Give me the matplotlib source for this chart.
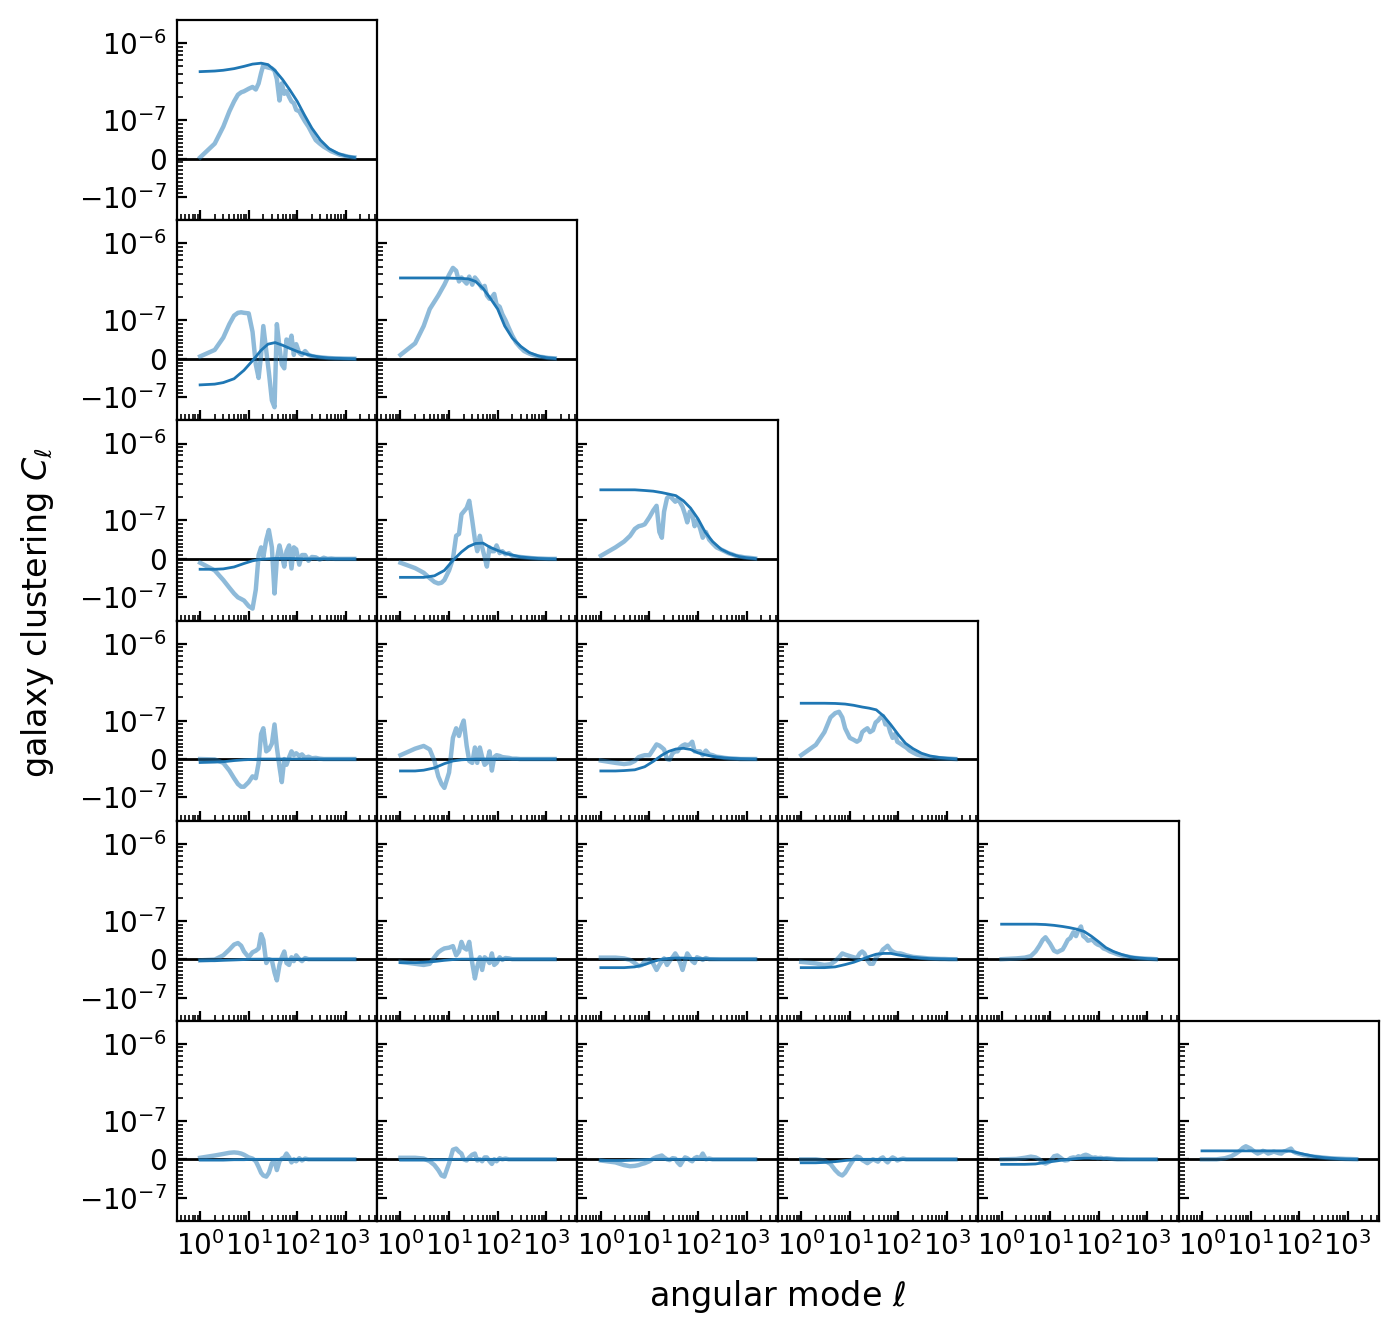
import matplotlib
matplotlib.use('Agg')
import matplotlib.pyplot as plt
from matplotlib.ticker import FixedLocator, LogLocator
import numpy as np

# values are in units of 1e-7
unit = 1e-7

ell_theory = [1, 2, 3, 5, 8, 12, 18, 25, 35, 50, 70, 100, 140, 200, 300, 450, 700, 1000, 1500]
ell_data = [1, 2, 3, 4, 5, 6, 7, 8, 10, 12, 14, 16, 18, 20, 23, 26, 30, 34, 38, 43, 48, 54, 60,
            68, 76, 85, 95, 110, 125, 145, 170, 200, 240, 290, 350, 420, 500, 600, 750, 900,
            1100, 1300, 1500]

# theory spectra (dark lines)
th_0_0 = [4.27, 4.35, 4.45, 4.67, 5.0, 5.35, 5.5, 5.27, 4.4, 3.36, 2.48, 1.75, 1.17, 0.79, 0.48, 0.26, 0.13, 0.07, 0.03]
th_1_0 = [-0.68, -0.66, -0.62, -0.52, -0.30, -0.05, 0.22, 0.38, 0.42, 0.35, 0.27, 0.19, 0.13, 0.08, 0.04, 0.02, 0.01, 0.005, 0.0]
th_1_1 = [3.55, 3.55, 3.55, 3.55, 3.55, 3.52, 3.5, 3.45, 3.2, 2.6, 1.95, 1.4, 0.85, 0.54, 0.32, 0.16, 0.07, 0.03, 0.01]
th_2_0 = [-0.27, -0.27, -0.26, -0.21, -0.12, -0.05, -0.01, 0.0, 0.01, 0.01, 0.01, 0.005, 0.0, 0.0, 0.0, 0.0, 0.0, 0.0, 0.0]
th_2_1 = [-0.48, -0.48, -0.48, -0.44, -0.3, -0.04, 0.18, 0.32, 0.4, 0.41, 0.3, 0.22, 0.15, 0.1, 0.05, 0.03, 0.01, 0.005, 0.0]
th_2_2 = [2.5, 2.5, 2.5, 2.5, 2.45, 2.4, 2.3, 2.2, 2.1, 1.8, 1.45, 1.05, 0.7, 0.45, 0.25, 0.14, 0.06, 0.03, 0.01]
th_3_0 = [-0.09, -0.08, -0.07, -0.04, -0.02, -0.01] + [0.0] * 13
th_3_1 = [-0.31, -0.31, -0.29, -0.23, -0.12, -0.05, -0.02, -0.01] + [0.0] * 11
th_3_2 = [-0.31, -0.31, -0.3, -0.28, -0.2, -0.06, 0.1, 0.2, 0.26, 0.28, 0.25, 0.16, 0.11, 0.07, 0.04, 0.02, 0.01, 0.005, 0.0]
th_3_3 = [1.68, 1.68, 1.68, 1.67, 1.64, 1.58, 1.5, 1.45, 1.38, 1.14, 0.89, 0.63, 0.41, 0.27, 0.15, 0.08, 0.04, 0.02, 0.005]
th_4_0 = [-0.04, -0.04, -0.03, -0.02, -0.01] + [0.0] * 14
th_4_1 = [-0.09, -0.09, -0.08, -0.06, -0.03, -0.01] + [0.0] * 13
th_4_2 = [-0.22, -0.22, -0.22, -0.2, -0.14, -0.06, 0.0, 0.02, 0.03, 0.03, 0.02, 0.015, 0.01, 0.005] + [0.0] * 5
th_4_3 = [-0.22, -0.22, -0.22, -0.2, -0.14, -0.08, 0.0, 0.07, 0.13, 0.15, 0.15, 0.11, 0.08, 0.05, 0.03, 0.015, 0.01, 0.005, 0.0]
th_4_4 = [0.91, 0.91, 0.91, 0.91, 0.9, 0.88, 0.85, 0.82, 0.78, 0.72, 0.6, 0.45, 0.3, 0.2, 0.12, 0.06, 0.03, 0.015, 0.005]
th_5_0 = [-0.02, -0.02, -0.02, -0.01, -0.01] + [0.0] * 14
th_5_1 = [-0.02, -0.02, -0.02, -0.01, -0.01] + [0.0] * 14
th_5_2 = [-0.03, -0.03, -0.03, -0.02, -0.01] + [0.0] * 14
th_5_3 = [-0.09, -0.09, -0.08, -0.06, -0.03, -0.01] + [0.0] * 13
th_5_4 = [-0.13, -0.13, -0.13, -0.12, -0.08, -0.05, -0.02, 0.0, 0.02, 0.03, 0.03, 0.025, 0.02, 0.01, 0.005] + [0.0] * 4
th_5_5 = [0.22, 0.22, 0.22, 0.22, 0.22, 0.22, 0.22, 0.22, 0.22, 0.22, 0.21, 0.16, 0.12, 0.08, 0.05, 0.03, 0.015, 0.008, 0.003]

# measured spectra (light lines)
cl_0_0 = [0.03, 0.39, 0.83, 1.3, 1.75, 2.14, 2.3, 2.37, 2.56, 2.7, 2.5, 3.0, 4.1, 5.2, 4.9, 4.8, 4.7, 4.4, 3.4, 1.8,
          3.0, 2.2, 2.37, 2.0, 1.75, 1.66, 1.36, 1.3, 1.12, 0.96, 0.83, 0.66, 0.48, 0.39, 0.31, 0.25, 0.19, 0.15,
          0.1, 0.08, 0.05, 0.035, 0.03]
cl_1_0 = [0.06, 0.23, 0.55, 0.9, 1.15, 1.25, 1.27, 1.25, 1.23, 0.7, -0.15, -0.5, 0.1, 0.85, 0.2, -0.35, -1.1, -1.35,
          0.9, 0.3, -0.15, -0.25, 0.5, 0.35, 0.6, 0.1, 0.38, 0.15, 0.1, 0.2, 0.1, 0.07, 0.05, 0.04, 0.03, 0.02,
          0.015, 0.01, 0.01, 0.005, 0.003, 0.002, 0.0]
cl_1_1 = [0.1, 0.4, 0.85, 1.4, 1.75, 2.1, 2.5, 2.9, 3.9, 4.8, 4.4, 3.2, 3.6, 3.3, 3.0, 3.7, 2.9, 3.6, 3.3, 2.9,
          2.6, 2.8, 2.1, 1.9, 2.0, 2.2, 1.6, 1.5, 1.2, 1.0, 0.8, 0.6, 0.42, 0.3, 0.2, 0.15, 0.11, 0.08, 0.05,
          0.04, 0.02, 0.015, 0.01]
cl_2_0 = [-0.1, -0.3, -0.55, -0.75, -0.9, -1.0, -1.05, -1.1, -1.3, -1.4, -0.8, 0.1, 0.3, 0.05, 0.5, 0.75, 0.3,
          -0.9, 0.0, 0.35, 0.1, -0.2, 0.2, 0.35, -0.25, 0.3, 0.25, -0.15, 0.1, 0.1, -0.05, 0.05, 0.04, -0.02,
          0.03, 0.0, 0.01] + [0.0] * 6
cl_2_1 = [-0.1, -0.24, -0.36, -0.5, -0.6, -0.64, -0.62, -0.55, -0.3, 0.0, 0.6, 0.65, 1.2, 1.3, 1.45, 1.8, 1.0,
          0.5, 0.2, 0.6, 0.3, 0.05, -0.2, 0.3, 0.2, 0.2, 0.35, 0.15, 0.2, 0.12, 0.15, 0.08, 0.06, 0.05, 0.04,
          0.03, 0.02, 0.015, 0.01, 0.005, 0.0, 0.0, 0.0]
cl_2_2 = [0.08, 0.3, 0.45, 0.6, 0.78, 0.85, 0.87, 0.9, 1.1, 1.35, 1.55, 0.7, 0.55, 1.3, 1.95, 2.1, 1.9, 1.75, 1.9,
          1.7, 1.5, 1.2, 0.95, 1.3, 1.2, 0.85, 1.0, 0.8, 0.55, 0.7, 0.5, 0.4, 0.3, 0.25, 0.2, 0.15, 0.12, 0.08,
          0.06, 0.04, 0.03, 0.02, 0.01]
cl_3_0 = [0.0, -0.01, -0.1, -0.3, -0.5, -0.65, -0.72, -0.72, -0.6, -0.45, -0.5, -0.1, 0.65, 0.8, 0.2, 0.25, 0.4,
          0.9, 0.3, -0.2, -0.6, 0.0, -0.15, 0.05, 0.2, 0.1, 0.15, 0.08, 0.12, 0.03, 0.06, 0.02, 0.03,
          0.01] + [0.0] * 9
cl_3_1 = [0.1, 0.27, 0.34, 0.25, -0.05, -0.45, -0.65, -0.75, -0.35, 0.55, 0.8, 0.6, 0.85, 1.0, 0.35, -0.05, -0.1,
          0.3, -0.1, 0.3, 0.05, -0.15, -0.1, 0.2, -0.3, 0.05, 0.1, 0.08, 0.05, 0.04, 0.03, 0.01,
          0.01] + [0.0] * 10
cl_3_2 = [-0.04, -0.1, -0.13, -0.11, -0.05, 0.05, 0.08, 0.1, 0.1, 0.25, 0.38, 0.35, 0.3, 0.25, 0.0, -0.02, 0.15,
          0.2, 0.2, 0.3, 0.35, 0.38, 0.36, 0.38, 0.45, 0.2, 0.2, 0.2, 0.1, 0.22, 0.12, 0.1, 0.06, 0.05, 0.03,
          0.02, 0.015, 0.01] + [0.0] * 5
cl_3_3 = [0.1, 0.37, 0.7, 1.1, 1.25, 1.3, 1.1, 0.8, 0.55, 0.5, 0.45, 0.5, 0.7, 0.75, 0.8, 0.7, 0.75, 0.95, 1.0,
          1.1, 1.15, 0.9, 0.95, 0.7, 0.55, 0.65, 0.45, 0.4, 0.35, 0.3, 0.22, 0.17, 0.12, 0.09, 0.07, 0.05,
          0.04, 0.03, 0.02, 0.015, 0.01, 0.005, 0.0]
cl_4_0 = [-0.03, -0.01, 0.1, 0.25, 0.38, 0.42, 0.35, 0.2, 0.05, 0.18, 0.22, 0.28, 0.65, 0.5, -0.1, 0.0, -0.03,
          -0.35, -0.55, -0.15, 0.05, 0.2, -0.1, -0.15, 0.05, -0.05, 0.1, 0.0, -0.05, 0.03] + [0.0] * 13
cl_4_1 = [-0.07, -0.12, -0.15, -0.12, 0.05, 0.18, 0.24, 0.28, 0.3, 0.34, 0.1, 0.2, 0.45, 0.3, 0.25, 0.45, -0.1,
          -0.5, -0.2, 0.05, -0.28, 0.05, 0.0, -0.1, 0.15, -0.15, -0.1, 0.05, -0.02, 0.03, 0.02] + [0.0] * 12
cl_4_2 = [0.04, 0.04, 0.02, -0.02, -0.1, -0.18, -0.15, -0.05, 0.0, -0.12, -0.28, -0.15, -0.05, 0.02, -0.15,
          -0.05, 0.05, 0.15, 0.05, -0.1, -0.28, -0.05, 0.15, 0.05, -0.05, -0.1, 0.05, 0.02, -0.02, 0.03,
          0.0] + [0.0] * 12
cl_4_3 = [-0.07, -0.11, -0.15, -0.13, -0.05, 0.05, 0.15, 0.12, 0.08, 0.05, 0.03, 0.15, 0.2, 0.15, -0.03, -0.12,
          -0.12, 0.02, 0.1, 0.15, 0.25, 0.3, 0.35, 0.25, 0.2, 0.17, 0.15, 0.15, 0.13, 0.1, 0.08, 0.06, 0.05,
          0.04, 0.03, 0.02, 0.015, 0.01, 0.005, 0.005, 0.0, 0.0, 0.0]
cl_4_4 = [0.0, 0.02, 0.04, 0.08, 0.2, 0.35, 0.5, 0.57, 0.4, 0.22, 0.18, 0.22, 0.25, 0.35, 0.5, 0.55, 0.7, 0.6,
          0.75, 0.85, 0.6, 0.55, 0.48, 0.5, 0.5, 0.42, 0.38, 0.35, 0.28, 0.25, 0.2, 0.17, 0.13, 0.1, 0.08,
          0.06, 0.04, 0.03, 0.02, 0.015, 0.01, 0.005, 0.0]
cl_5_0 = [0.04, 0.1, 0.14, 0.17, 0.18, 0.17, 0.15, 0.12, 0.05, 0.02, -0.05, -0.2, -0.35, -0.42, -0.45, -0.35,
          -0.1, -0.05, -0.28, -0.05, 0.02, 0.05, 0.15, 0.05, -0.08, 0.0, -0.05, 0.03, -0.03, 0.02,
          0.0] + [0.0] * 12
cl_5_1 = [0.04, 0.04, 0.02, -0.05, -0.15, -0.28, -0.42, -0.45, -0.1, 0.25, 0.28, 0.2, 0.15, 0.0, -0.03, 0.05,
          0.12, 0.15, -0.03, 0.0, -0.05, 0.05, 0.05, -0.05, -0.12, 0.0, -0.05, 0.03, 0.0, 0.02,
          0.0] + [0.0] * 12
cl_5_2 = [-0.03, -0.08, -0.15, -0.18, -0.17, -0.15, -0.12, -0.1, -0.05, 0.02, 0.06, 0.08, 0.1, 0.05, 0.0, -0.02,
          0.03, 0.02, -0.08, -0.15, -0.05, 0.05, 0.03, -0.02, -0.05, 0.03, 0.06, 0.03, 0.15, 0.0,
          0.02] + [0.0] * 12
cl_5_3 = [0.0, 0.0, -0.03, -0.12, -0.28, -0.38, -0.42, -0.35, -0.15, 0.0, 0.07, 0.05, -0.02, -0.05, -0.1, -0.05,
          0.0, -0.03, -0.06, 0.02, 0.05, -0.03, -0.08, 0.0, 0.05, 0.02, -0.03, 0.0, 0.02, 0.0] + [0.0] * 13
cl_5_4 = [0.0, 0.01, 0.04, 0.07, 0.05, 0.0, -0.08, -0.11, -0.05, 0.08, 0.1, 0.05, 0.0, -0.03, -0.02, 0.03, 0.05,
          0.04, 0.08, 0.06, 0.1, 0.12, 0.1, 0.06, 0.04, 0.05, 0.03, 0.04, 0.02, 0.03, 0.02, 0.01] + [0.0] * 11
cl_5_5 = [0.0, 0.0, 0.03, 0.08, 0.15, 0.22, 0.3, 0.34, 0.28, 0.2, 0.15, 0.18, 0.22, 0.2, 0.15, 0.17, 0.2, 0.18,
          0.16, 0.15, 0.2, 0.22, 0.25, 0.28, 0.2, 0.17, 0.15, 0.13, 0.11, 0.1, 0.08, 0.07, 0.06, 0.05, 0.04,
          0.03, 0.025, 0.02, 0.015, 0.01, 0.008, 0.005, 0.003]

nbin = 6
theory = {}
measured = {}
for i in range(nbin):
    for j in range(i + 1):
        theory[i, j] = globals()['th_%d_%d' % (i, j)]
        measured[i, j] = globals()['cl_%d_%d' % (i, j)]

fig, axes = plt.subplots(nbin, nbin, sharex=True, sharey=True, figsize=(6.98, 6.685))
fig.subplots_adjust(left=0.1266, right=0.9878, bottom=0.0868, top=0.985, wspace=0, hspace=0)

for i in range(nbin):
    for j in range(nbin):
        ax = axes[i, j]
        if j > i:
            ax.set_visible(False)
            continue
        ax.axhline(0, color='k', lw=1)
        ax.plot(ell_data, np.array(measured[i, j]) * unit, color='C0', alpha=0.5, lw=1.6)
        ax.plot(ell_theory, np.array(theory[i, j]) * unit, color='C0', lw=1)
        ax.tick_params(which='both', direction='in')

ax0 = axes[0, 0]
ax0.set_xscale('log')
ax0.set_yscale('symlog', linthresh=1e-7, linscale=0.45)
ax0.set_xlim(0.33, 4400)
ax0.set_ylim(-2e-7, 2e-6)
ax0.xaxis.set_major_locator(LogLocator(base=10, numticks=12))
ax0.xaxis.set_minor_locator(LogLocator(base=10, subs=np.arange(2, 10), numticks=12))
minor_y = [k * 1e-8 for k in range(-9, 10) if k != 0] + [k * 1e-7 for k in range(2, 10)] + [-2e-7, 2e-6]
ax0.yaxis.set_minor_locator(FixedLocator(minor_y))

fig.text(0.557, 0.030, r'angular mode $\ell$', ha='center', va='center', fontsize=12)
fig.text(0.027, 0.542, r'galaxy clustering $C_\ell$', rotation=90, ha='center', va='center', fontsize=12)

fig.savefig('out.png', dpi=200)
